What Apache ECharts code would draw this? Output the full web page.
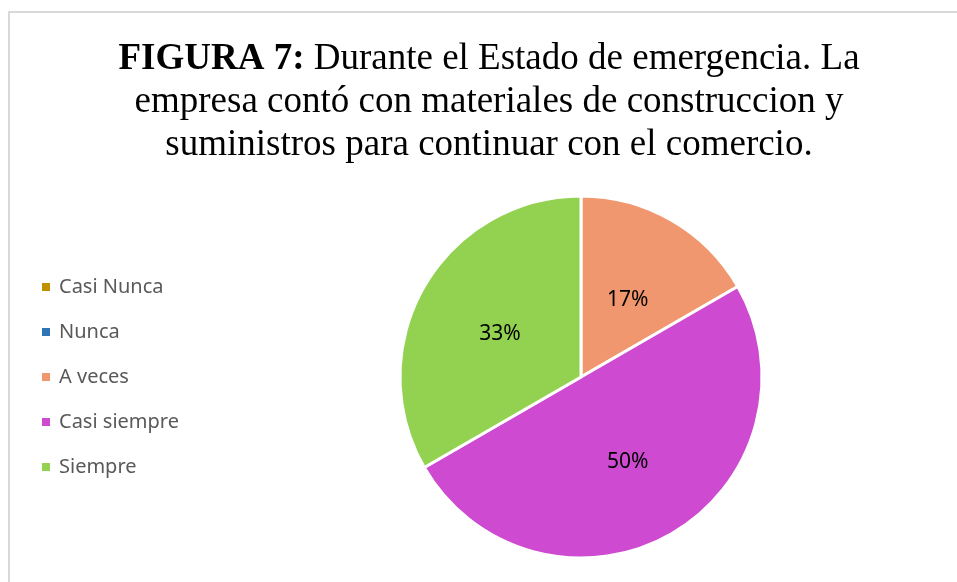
<!DOCTYPE html>
<html>
<head>
<meta charset="utf-8">
<script src="https://cdn.jsdelivr.net/npm/echarts@6/dist/echarts.min.js"></script>
<style>
    html, body { margin: 0; padding: 0; background: #fff; }
    #chart_fig7 { width: 957px; height: 582px; }
</style>
</head>
<body>
<div id="chart_fig7"></div>
<script>
    // categories and counts (percentages computed by the pie)
    var categories = ['Casi Nunca', 'Nunca', 'A veces', 'Casi siempre', 'Siempre'];
    var answers = [0, 0, 1, 3, 2];
    var sliceColors = ['#BF9000', '#2E75B6', '#F1976F', '#CD4AD1', '#93D251'];

    var pieData = [];
    categories.forEach(function (name, i) {
        pieData.push({ name: name, value: answers[i], itemStyle: { color: sliceColors[i] } });
    });

    var myChart = echarts.init(document.getElementById('chart_fig7'));
    var option = {
        animation: false,
        backgroundColor: '#fff',
        graphic: [
            {
                type: 'rect',
                shape: { x: 9, y: 12, width: 1000, height: 620 },
                style: { fill: 'none', stroke: '#d9d9d9', lineWidth: 2 },
                silent: true
            }
        ],
        title: {
            text: '{b|FIGURA 7:} Durante el Estado de emergencia. La\nempresa contó con materiales de construccion y\nsuministros para continuar con el comercio.',
            left: 489,
            top: 38,
            padding: 0,
            textAlign: 'center',
            textStyle: {
                fontFamily: '"Liberation Serif", "Times New Roman", serif',
                fontSize: 37,
                fontWeight: 'normal',
                lineHeight: 43,
                color: '#000',
                rich: {
                    b: {
                        fontFamily: '"Liberation Serif", "Times New Roman", serif',
                        fontSize: 37,
                        fontWeight: 'bold',
                        lineHeight: 43,
                        color: '#000'
                    }
                }
            }
        },
        legend: {
            orient: 'vertical',
            left: 40,
            top: 277,
            padding: 0,
            itemWidth: 10,
            itemHeight: 10,
            itemGap: 25,
            icon: 'rect',
            data: categories,
            textStyle: {
                fontFamily: '"Noto Sans", sans-serif',
                fontSize: 20,
                color: '#595959',
                padding: [0, 0, 0, 3]
            }
        },
        series: [
            {
                name: 'Figura 7',
                type: 'pie',
                center: [581, 377],
                radius: 181,
                startAngle: 90,
                clockwise: true,
                itemStyle: {
                    borderColor: '#fff',
                    borderWidth: 3
                },
                label: {
                    show: true,
                    position: 'inside',
                    offset: [0, 4],
                    fontFamily: '"Noto Sans", sans-serif',
                    fontSize: 21,
                    color: '#000',
                    formatter: function (p) {
                        return p.value === 0 ? '' : Math.round(p.percent) + '%';
                    }
                },
                labelLine: { show: false },
                emphasis: { disabled: true },
                data: pieData
            }
        ]
    };
    myChart.setOption(option);
</script>
</body>
</html>
